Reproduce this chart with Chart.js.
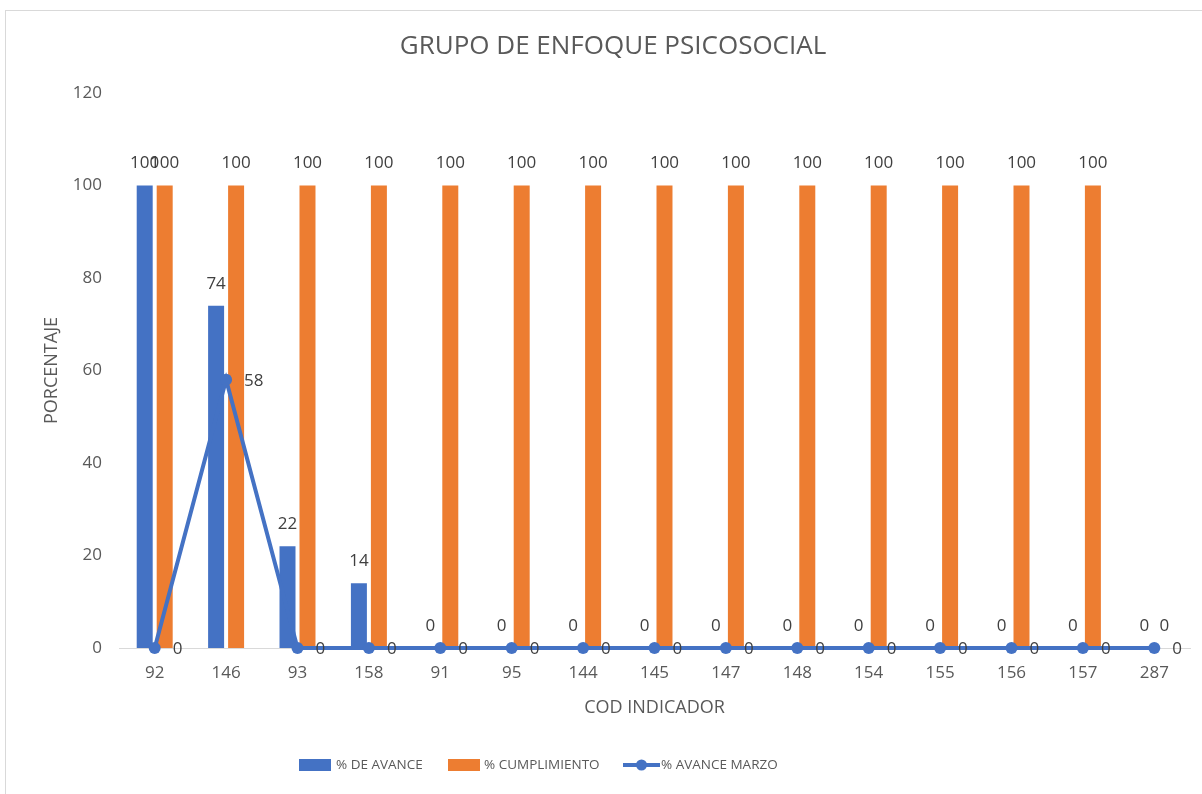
<!DOCTYPE html>
<html>
<head>
<meta charset="utf-8">
<script src="https://cdn.jsdelivr.net/npm/chart.js@4/dist/chart.umd.min.js"></script>
<style>
  html, body { margin: 0; padding: 0; background: #fff; }
  #wrap { width: 1202px; height: 794px; position: relative; }
</style>
</head>
<body>
<div id="wrap"><canvas id="chart" width="1202" height="794"></canvas></div>
<script>
// categories and series
const codIndicador = ["92", "146", "93", "158", "91", "95", "144", "145", "147", "148", "154", "155", "156", "157", "287"];
const avance = [100, 74, 22, 14, 0, 0, 0, 0, 0, 0, 0, 0, 0, 0, 0];
const cumplimiento = [100, 100, 100, 100, 100, 100, 100, 100, 100, 100, 100, 100, 100, 100, 0];
const avanceMarzo = [0, 58, 0, 0, 0, 0, 0, 0, 0, 0, 0, 0, 0, 0, 0];
const yTicks = [0, 20, 40, 60, 80, 100, 120];

const BLUE = "#4472C4";
const ORANGE = "#ED7D31";
const TEXT = "#595959";
const FONT = "'Open Sans', 'Liberation Sans', sans-serif";

// frame + title drawn behind the chart
const framePlugin = {
  id: "frame",
  beforeDraw(chart) {
    const ctx = chart.ctx;
    ctx.save();
    ctx.fillStyle = "#fff";
    ctx.fillRect(0, 0, chart.width, chart.height);
    ctx.strokeStyle = "#d9d9d9";
    ctx.lineWidth = 1;
    ctx.strokeRect(5.5, 10.5, 1220, 820);
    ctx.fillStyle = TEXT;
    ctx.font = `26px ${FONT}`;
    ctx.textAlign = "center";
    ctx.textBaseline = "middle";
    ctx.fillText("GRUPO DE ENFOQUE PSICOSOCIAL", 613, 47);
    ctx.restore();
  }
};

// value labels like Excel's data labels
const valueLabels = {
  id: "valueLabels",
  afterDatasetsDraw(chart) {
    const ctx = chart.ctx;
    ctx.save();
    ctx.font = `17px ${FONT}`;
    ctx.fillStyle = "#404040";
    ctx.textBaseline = "middle";
    chart.data.datasets.forEach((ds, i) => {
      const meta = chart.getDatasetMeta(i);
      meta.data.forEach((el, j) => {
        const v = ds.data[j];
        if (ds.type === "line") {
          ctx.textAlign = "left";
          ctx.fillText(String(v), el.x + 18, el.y + 1);
        } else {
          ctx.textAlign = "center";
          ctx.fillText(String(v), el.x, el.y - 22);
        }
      });
    });
    ctx.restore();
  }
};

// legend drawn by hand to match the Excel look
const legendPlugin = {
  id: "customLegend",
  afterDraw(chart) {
    const ctx = chart.ctx;
    const y = 765;
    ctx.save();
    ctx.font = `13.5px ${FONT}`;
    ctx.textBaseline = "middle";
    ctx.textAlign = "left";

    ctx.fillStyle = BLUE;
    ctx.fillRect(299, y - 6, 32, 12);
    ctx.fillStyle = TEXT;
    ctx.fillText("% DE AVANCE", 336, y);

    ctx.fillStyle = ORANGE;
    ctx.fillRect(448, y - 6, 32, 12);
    ctx.fillStyle = TEXT;
    ctx.fillText("% CUMPLIMIENTO", 484, y);

    ctx.strokeStyle = BLUE;
    ctx.lineWidth = 4;
    ctx.beginPath();
    ctx.moveTo(623, y);
    ctx.lineTo(660, y);
    ctx.stroke();
    ctx.fillStyle = BLUE;
    ctx.beginPath();
    ctx.arc(641.5, y, 5.5, 0, Math.PI * 2);
    ctx.fill();
    ctx.fillStyle = TEXT;
    ctx.fillText("% AVANCE MARZO", 661, y);
    ctx.restore();
  }
};

new Chart(document.getElementById("chart"), {
  data: {
    labels: codIndicador,
    datasets: [
      {
        type: "line",
        label: "% AVANCE MARZO",
        data: avanceMarzo,
        borderColor: BLUE,
        backgroundColor: BLUE,
        borderWidth: 4,
        pointRadius: 6,
        pointHoverRadius: 6,
        pointBackgroundColor: BLUE,
        pointBorderWidth: 0,
        tension: 0,
        clip: false,
        order: 0
      },
      {
        type: "bar",
        label: "% DE AVANCE",
        data: avance,
        backgroundColor: BLUE,
        categoryPercentage: 0.56,
        barPercentage: 0.8,
        order: 1
      },
      {
        type: "bar",
        label: "% CUMPLIMIENTO",
        data: cumplimiento,
        backgroundColor: ORANGE,
        categoryPercentage: 0.56,
        barPercentage: 0.8,
        order: 1
      }
    ]
  },
  options: {
    responsive: false,
    animation: false,
    layout: { padding: { left: 40, right: 12, top: 93, bottom: 66 } },
    plugins: {
      legend: { display: false },
      title: { display: false },
      tooltip: { enabled: false }
    },
    scales: {
      x: {
        grid: { display: false, drawTicks: false },
        border: { display: true, color: "#d9d9d9", width: 1 },
        ticks: { color: TEXT, font: { family: FONT, size: 17 }, padding: 15, maxRotation: 0 },
        title: {
          display: true, text: "COD INDICADOR", color: TEXT,
          font: { family: FONT, size: 18 }, padding: { top: 4, bottom: 9 }
        },
        afterFit(scale) { scale.height = 80; }
      },
      y: {
        min: 0,
        max: 120,
        afterBuildTicks(scale) { scale.ticks = yTicks.map(v => ({ value: v })); },
        grid: { display: false, drawTicks: false },
        border: { display: false },
        ticks: { color: TEXT, font: { family: FONT, size: 17 }, padding: 17 },
        title: {
          display: true, text: "PORCENTAJE", color: TEXT,
          font: { family: FONT, size: 18 }, padding: { top: 1, bottom: 4 }
        },
        afterFit(scale) { scale.width = 79; }
      }
    }
  },
  plugins: [framePlugin, valueLabels, legendPlugin]
});
</script>
</body>
</html>
